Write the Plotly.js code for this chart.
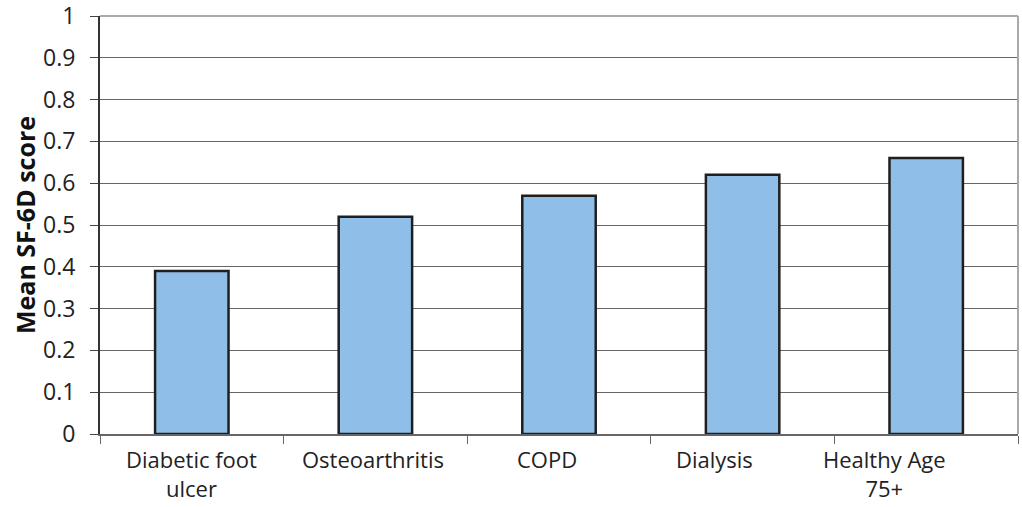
<!DOCTYPE html>
<html>
<head>
<meta charset="utf-8">
<script src="https://cdn.plot.ly/plotly-3.0.1.min.js"></script>
<style>html,body{margin:0;padding:0;background:#fff;}#chart{width:1022px;height:507px;}</style>
</head>
<body>
<div id="chart"></div>
<script>
const categories = ["Diabetic foot<br>ulcer", "Osteoarthritis", "COPD", "Dialysis", "Healthy Age<br>75+"];
const meanScores = [0.39, 0.52, 0.57, 0.62, 0.66];
const yTickVals = [0, 0.1, 0.2, 0.3, 0.4, 0.5, 0.6, 0.7, 0.8, 0.9, 1];
const yTickText = ["0", "0.1", "0.2", "0.3", "0.4", "0.5", "0.6", "0.7", "0.8", "0.9", "1"];
const yAxisTitle = "Mean SF-6D score";

// pixel nudges for category labels (style only)
const labelShift = [0, -2, -12, -28, -42];

const font = "'Open Sans', 'Noto Sans', sans-serif";

const trace = {
  type: "bar",
  x: categories,
  y: meanScores,
  marker: {color: "#8fbfe8", line: {color: "#1f1f1f", width: 2.5}},
  hoverinfo: "skip"
};

const annotations = categories.map((c, i) => ({
  x: c, xref: "x", y: 0, yref: "paper",
  text: c, showarrow: false,
  xanchor: "center", yanchor: "top",
  yshift: -9, xshift: labelShift[i],
  borderpad: 0,
  font: {family: font, size: 22, color: "#222"},
  align: "center"
}));

const layout = {
  width: 1022, height: 507,
  margin: {l: 100, r: 4, t: 16, b: 73},
  paper_bgcolor: "#fff", plot_bgcolor: "#fff",
  bargap: 0.6,
  showlegend: false,
  font: {family: font, size: 22, color: "#222"},
  xaxis: {
    type: "category",
    tickson: "boundaries",
    ticks: "outside", ticklen: 8, tickcolor: "#666", tickwidth: 1,
    showline: true, linecolor: "#666", linewidth: 1.5,
    showgrid: false, zeroline: false,
    showticklabels: false
  },
  yaxis: {
    range: [0, 1],
    tickvals: yTickVals, ticktext: yTickText,
    ticks: "outside", ticklen: 8, tickcolor: "#444", tickwidth: 1,
    ticklabelstandoff: 10,
    ticklabeloverflow: "allow",
    showline: true, linecolor: "#333", linewidth: 2,
    showgrid: true, gridcolor: "#666", gridwidth: 1,
    zeroline: false,
    tickfont: {family: font, size: 23, color: "#222"},
    title: {text: yAxisTitle, font: {family: font, size: 25, color: "#111", weight: "bold"}, standoff: 0}
  },
  annotations: annotations,
  shapes: [
    {type: "line", xref: "paper", yref: "paper", x0: 0, x1: 1, y0: 1, y1: 1, line: {color: "#aaa", width: 2}},
    {type: "line", xref: "paper", yref: "paper", x0: 1, x1: 1, y0: 0, y1: 1, line: {color: "#aaa", width: 2}}
  ]
};

Plotly.newPlot("chart", [trace], layout, {displayModeBar: false, staticPlot: true});
</script>
</body>
</html>
